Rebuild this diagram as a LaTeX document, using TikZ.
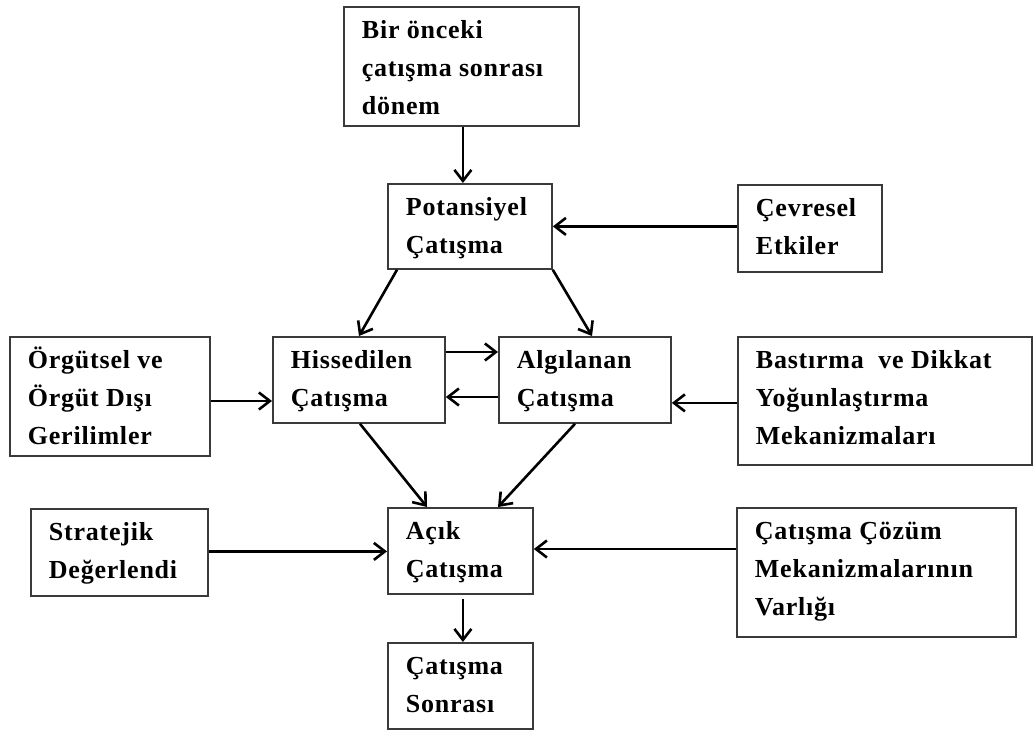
\documentclass[tikz,border=0pt]{standalone}
\usepackage{fontspec}
\setmainfont{Liberation Serif}[LetterSpace=3]
\usetikzlibrary{arrows.meta}
\definecolor{boxgray}{HTML}{3A3A3A}
\newcommand{\bxc}[3]{\begin{minipage}[t][#2][t]{#1}\fontsize{26}{38}\selectfont\bfseries\leftskip=18pt\rightskip=0pt plus 1fil\parindent=0pt\rule{0pt}{32pt}#3\par\end{minipage}}
\begin{document}
\begin{tikzpicture}[x=1pt,y=-1pt,
  bx/.style={draw=boxgray, line width=1.8pt, inner sep=0pt, anchor=north west},
  arr/.style={line width=2.6pt, -{Straight Barb[length=11pt,width=17pt,line width=2.6pt]}}]
\useasboundingbox (0,0) rectangle (1033,733);
\node[bx] (top) at (343,6) {\bxc{235pt}{119pt}{Bir önceki\\çatışma sonrası\\dönem}};
\node[bx] (pot) at (387,183) {\bxc{164pt}{85pt}{Potansiyel\\Çatışma}};
\node[bx] (cev) at (737,184) {\bxc{144pt}{87pt}{Çevresel\\Etkiler}};
\node[bx] (org) at (9,336) {\bxc{200pt}{119pt}{Örgütsel ve\\Örgüt Dışı\\Gerilimler}};
\node[bx] (his) at (272,336) {\bxc{172pt}{86pt}{Hissedilen\\Çatışma}};
\node[bx] (alg) at (498,336) {\bxc{172pt}{86pt}{Algılanan\\Çatışma}};
\node[bx] (bas) at (737,336) {\bxc{294pt}{128pt}{Bastırma\ \ ve Dikkat\\Yoğunlaştırma\\Mekanizmaları}};
\node[bx] (str) at (30,508) {\bxc{177pt}{87pt}{Stratejik\\Değerlendi}};
\node[bx] (acik) at (387,507) {\bxc{145pt}{86pt}{Açık\\Çatışma}};
\node[bx] (coz) at (736,507) {\bxc{279pt}{129pt}{Çatışma Çözüm\\Mekanizmalarının\\Varlığı}};
\node[bx] (son) at (387,642) {\bxc{145pt}{86pt}{Çatışma\\Sonrası}};
\draw[arr] ([xshift=1.5pt]top.south) -- ([xshift=1.5pt]top.south |- pot.north);
\draw[arr] ([yshift=2pt]cev.west) -- ([yshift=2pt]cev.west -| pot.east);
\draw[arr] ([xshift=10pt]pot.south west) -- ([xshift=87pt]his.north west);
\draw[arr] (pot.south east) -- ([xshift=94pt]alg.north west);
\draw[arr] ([yshift=-16pt]his.north east) -- ([yshift=-16pt]alg.north west);
\draw[arr] ([yshift=-61pt]alg.north west) -- ([yshift=-61pt]his.north east);
\draw[arr] ([yshift=-65pt]org.north east) -- ([yshift=-65pt]his.north west);
\draw[arr] ([yshift=-2pt]bas.west) -- ([yshift=-2pt]bas.west -| alg.east);
\draw[arr] ([xshift=88pt]his.south west) -- ([xshift=40pt]acik.north west);
\draw[arr] ([xshift=77pt]alg.south west) -- ([xshift=111pt]acik.north west);
\draw[arr] ([yshift=1pt]str.east) -- ([yshift=1pt]str.east -| acik.west);
\draw[arr] ([yshift=-42pt]coz.north west) -- ([yshift=-42pt]coz.north west -| acik.east);
\draw[arr, shorten <=4pt] ([xshift=2.5pt]acik.south) -- ([xshift=2.5pt]acik.south |- son.north);
\end{tikzpicture}
\end{document}
